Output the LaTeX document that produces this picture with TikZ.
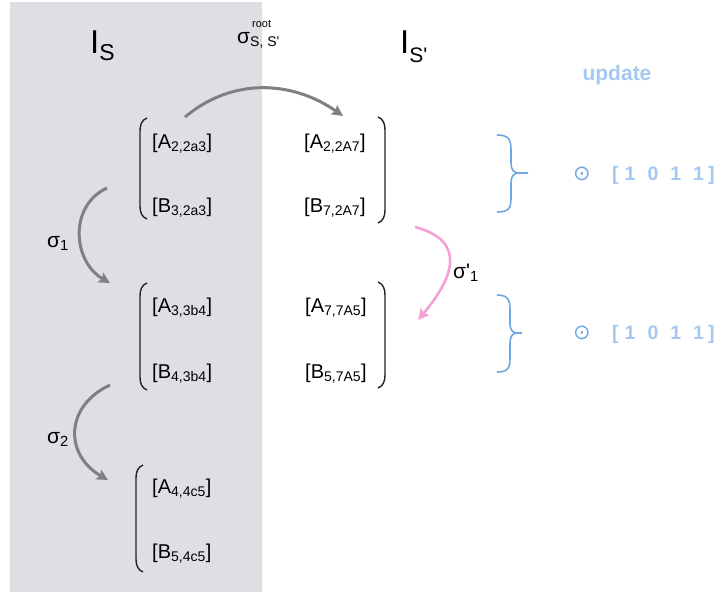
\documentclass[tikz,border=0pt]{standalone}
\usepackage{fontspec}
\setmainfont{Liberation Sans}
\newfontfamily\symfont{DejaVu Sans}
\usetikzlibrary{arrows.meta, positioning, calc}
\definecolor{panegray}{RGB}{222,223,228}
\definecolor{flowgray}{RGB}{128,128,128}
\definecolor{flowpink}{RGB}{245,160,214}
\definecolor{braceblue}{RGB}{111,168,224}
\definecolor{lightblue}{RGB}{164,200,240}
\definecolor{brakcol}{RGB}{34,34,34}

\begin{document}
\begin{tikzpicture}[x=1pt, y=1pt,
  >={Stealth[length=11pt, width=11pt, inset=2pt]},
  entry/.style={font=\fontsize{20}{22}\selectfont, inner sep=0pt, anchor=base west},
  sig/.style={font=\fontsize{21}{24}\selectfont, inner sep=0pt, anchor=base west},
  brak/.style={line width=1.4pt, draw=brakcol},
  flow/.style={->, line width=3pt, draw=flowgray},
  upd/.style={line width=1.6pt, draw=braceblue},
  dotop/.style={text=braceblue, inner sep=0pt, font=\symfont\fontsize{21}{22}\selectfont},
  vec/.style={font=\fontsize{19.5}{21}\selectfont\bfseries, text=lightblue, inner sep=0pt, anchor=base west}
]
\useasboundingbox (0,0) rectangle (721,-592);
\fill[white] (0,0) rectangle (721,-592);
\fill[panegray] (10,-2) rectangle (262,-592);

% titles
\node[inner sep=0pt, anchor=base west, font=\fontsize{33}{36}\selectfont] (IS) at (90,-53)
  {I\raisebox{-7pt}{\fontsize{23}{24}\selectfont S}};
\node[inner sep=0pt, anchor=base west, font=\fontsize{33}{36}\selectfont] (ISp) at (400,-53)
  {I\raisebox{-9pt}{\fontsize{21}{24}\selectfont S\textquotesingle}};
\node[sig] (root) at (237,-43)
  {σ\rlap{\raisebox{16pt}{\fontsize{11}{11}\selectfont\hspace{2pt}root}}\raisebox{-3pt}{\fontsize{14}{15}\selectfont S, S\textquotesingle}};
\node[inner sep=0pt, anchor=base, font=\fontsize{21}{24}\selectfont\bfseries, text=lightblue] (update) at (617,-80) {update};

% entries
\node[entry] (a1l) at (152,-148) {[A\textsubscript{2,2a3}]};
\node[entry] (b1l) at (152,-212) {[B\textsubscript{3,2a3}]};
\node[entry] (a1r) at (304,-148) {[A\textsubscript{2,2A7}]};
\node[entry] (b1r) at (304,-212) {[B\textsubscript{7,2A7}]};
\node[entry] (a2l) at (152,-312) {[A\textsubscript{3,3b4}]};
\node[entry] (b2l) at (152,-378) {[B\textsubscript{4,3b4}]};
\node[entry] (a2r) at (305,-312) {[A\textsubscript{7,7A5}]};
\node[entry] (b2r) at (305,-378) {[B\textsubscript{5,7A5}]};
\node[entry] (a3l) at (152,-493) {[A\textsubscript{4,4c5}]};
\node[entry] (b3l) at (152,-558) {[B\textsubscript{5,4c5}]};

% brackets
\draw[brak] (147,-118) to[out=200,in=90] (140,-131) -- (140,-206) to[out=-90,in=160] (147,-219);
\draw[brak] (378,-117) to[out=-20,in=90] (385,-130) -- (385,-210) to[out=-90,in=20] (378,-223);
\draw[brak] (147,-283) to[out=200,in=90] (140,-296) -- (140,-377) to[out=-90,in=160] (147,-390);
\draw[brak] (378,-282) to[out=-20,in=90] (385,-295) -- (385,-375) to[out=-90,in=20] (378,-388);
\draw[brak] (143,-465) to[out=200,in=90] (136,-478) -- (136,-559) to[out=-90,in=160] (143,-572);

% transitions
\draw[flow] ($(a1l.base west)+(33,31)$) to[out=40,in=145] ($(a1r.base west)+(39,32)$);
\draw[flow] ($(b1l.base west)+(-45,24)$) to[out=205,in=150,looseness=1.15] ($(a2l.base west)+(-42,29)$);
\draw[flow] ($(b2l.base west)+(-42,-7)$) to[out=205,in=150,looseness=1.35] ($(a3l.base west)+(-44,13)$);
\draw[flow, draw=flowpink, line width=2.6pt] ($(b1r.base west)+(111,-15)$) to[out=-15,in=50,looseness=1.5] ($(a2r.base west)+(113,-8)$);

\node[sig] (s1) at (47,-247) {σ\textsubscript{1}};
\node[sig] (s2) at (47,-443) {σ\textsubscript{2}};
\node[sig] (s1p) at (453,-278) {σ\textquotesingle\textsubscript{1}};

% update braces
\draw[upd] (497,-135) .. controls (509,-135) and (511,-140) .. (511,-150) -- (511,-163)
  .. controls (511,-170) and (514,-173) .. (519,-173) -- (528,-173);
\draw[upd] (519,-173) .. controls (514,-173) and (511,-176) .. (511,-183) -- (511,-198)
  .. controls (511,-208) and (509,-212) .. (497,-212);
\draw[upd] (497,-295) .. controls (508,-295) and (510,-300) .. (510,-310) -- (510,-324)
  .. controls (510,-330) and (513,-333) .. (517,-333) -- (522,-333);
\draw[upd] (517,-333) .. controls (513,-333) and (510,-336) .. (510,-343) -- (510,-358)
  .. controls (510,-368) and (508,-372) .. (497,-372);

\node[dotop] (o1) at (582,-174) {⊙};
\node[dotop] (o2) at (582,-333) {⊙};
\node[vec] (v1) at (612,-180) {\spaceskip=12pt [\hspace{6pt}1 0 1 1\hspace{4pt}]};
\node[vec] (v2) at (612,-339) {\spaceskip=12pt [\hspace{6pt}1 0 1 1\hspace{4pt}]};
\end{tikzpicture}
\end{document}
